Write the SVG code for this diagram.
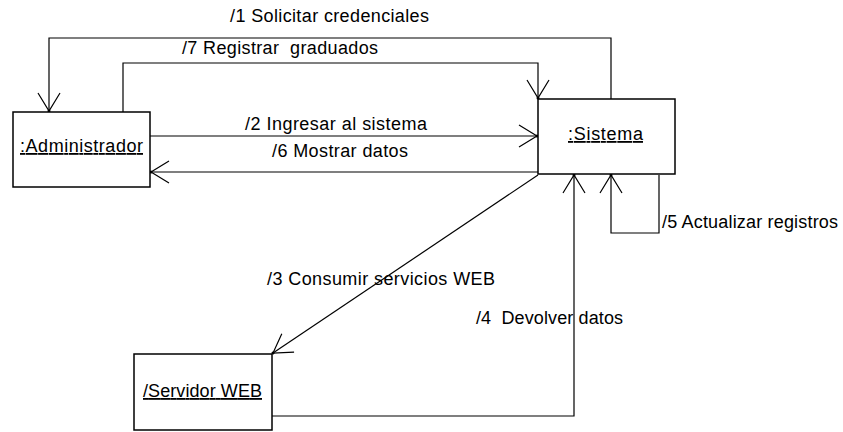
<svg xmlns="http://www.w3.org/2000/svg" width="843" height="432" viewBox="0 0 843 432">
<style>
  .box { fill: #ffffff; stroke: #000000; stroke-width: 1.5; }
  .name { font-family: "Liberation Sans", Arial, sans-serif; font-size: 18px; fill: #000; text-decoration: underline; text-anchor: middle; }
  .lbl { font-family: "Liberation Sans", Arial, sans-serif; font-size: 18px; fill: #000; }
  .conn { fill: none; stroke: #000000; stroke-width: 1.2; marker-end: url(#open); }
</style>
<defs>
  <marker id="open" markerUnits="userSpaceOnUse" markerWidth="40" markerHeight="40" viewBox="-20 -20 40 40" refX="0" refY="0" orient="auto" overflow="visible">
    <path d="M-18,-11 L0,0 L-18,11" fill="none" stroke="#000" stroke-width="1.2"/>
    <circle cx="0" cy="0" r="1.5" fill="#000"/>
  </marker>
</defs>
<rect width="843" height="432" fill="#ffffff"/>

<g id="connectors">
  <!-- /1 -->
  <path class="conn" d="M611,99 L611,38 L49,38 L49,111"/>
  <!-- /7 -->
  <path class="conn" d="M123,112 L123,63 L538,63 L538,98"/>
  <!-- /2 -->
  <path class="conn" d="M150,136 L537,136"/>
  <!-- /6 -->
  <path class="conn" d="M538,172 L151,172"/>
  <!-- /3 -->
  <path class="conn" d="M538,175 L273,353"/>
  <!-- /4 -->
  <path class="conn" d="M272,416 L574,416 L574,175"/>
  <!-- /5 -->
  <path class="conn" d="M659,175 L659,233 L611,233 L611,175"/>

  <text class="lbl" x="230" y="22" textLength="199">/1 Solicitar credenciales</text>
  <text class="lbl" x="182" y="54" xml:space="preserve" textLength="196">/7 Registrar  graduados</text>
  <text class="lbl" x="245" y="130" textLength="182">/2 Ingresar al sistema</text>
  <text class="lbl" x="272" y="157" textLength="136">/6 Mostrar datos</text>
  <text class="lbl" x="267" y="285" textLength="228">/3 Consumir servicios WEB</text>
  <text class="lbl" x="476" y="324" xml:space="preserve" textLength="147">/4  Devolver datos</text>
  <text class="lbl" x="662" y="228" textLength="176">/5 Actualizar registros</text>
</g>

<g id="administrador">
  <rect class="box" x="13" y="112" width="137" height="75"/>
  <text class="name" x="81.5" y="152" textLength="123">:Administrador</text>
</g>

<g id="sistema">
  <rect class="box" x="538" y="99" width="137" height="75"/>
  <text class="name" x="605.5" y="140" textLength="75">:Sistema</text>
</g>

<g id="servidor">
  <rect class="box" x="134" y="354" width="138" height="76"/>
  <text class="name" x="202.5" y="397" textLength="119">/Servidor WEB</text>
</g>
</svg>
